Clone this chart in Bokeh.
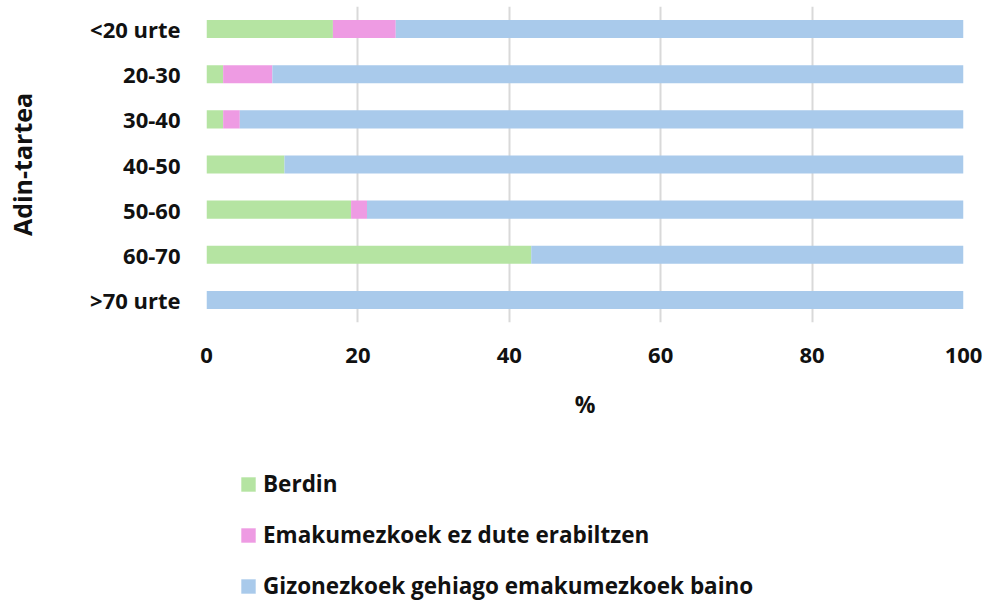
from bokeh.plotting import figure
from bokeh.layouts import column
from bokeh.models import FactorRange, Range1d, Legend, LegendItem, ColumnDataSource, FixedTicker
from bokeh.embed import file_html
from bokeh.resources import INLINE

categories = ["<20 urte", "20-30", "30-40", "40-50", "50-60", "60-70", ">70 urte"]
berdin = [16.7, 2.2, 2.2, 10.3, 19.1, 42.9, 0.0]
ez_dute = [8.3, 6.5, 2.2, 0.0, 2.1, 0.0, 0.0]
gizonezkoek = [75.0, 91.3, 95.6, 89.7, 78.8, 57.1, 100.0]
series_names = ["Berdin", "Emakumezkoek ez dute erabiltzen", "Gizonezkoek gehiago emakumezkoek baino"]
colors = ["#b5e4a2", "#ee9be3", "#a9caeb"]
x_ticks = [0, 20, 40, 60, 80, 100]

FONT = "Open Sans"

source = ColumnDataSource(dict(cat=categories, s0=berdin, s1=ez_dute, s2=gizonezkoek))

p = figure(
    y_range=FactorRange(factors=list(reversed(categories)), range_padding=0),
    x_range=Range1d(0, 100),
    frame_width=757, frame_height=316,
    min_border_left=206, min_border_right=24, min_border_top=6, min_border_bottom=110,
    output_backend="svg", toolbar_location=None,
)
p.outline_line_color = None
p.background_fill_color = "white"
p.border_fill_color = "white"

rs = p.hbar_stack(["s0", "s1", "s2"], y="cat", height=0.4, color=colors, source=source, line_width=0)

p.xaxis.ticker = FixedTicker(ticks=x_ticks)
p.xaxis.axis_label = "%"
p.yaxis.axis_label = "Adin-tartea"
for ax in (p.xaxis[0], p.yaxis[0]):
    ax.axis_line_color = None
    ax.major_tick_line_color = None
    ax.minor_tick_line_color = None
    ax.major_label_text_font = FONT
    ax.major_label_text_font_style = "bold"
    ax.major_label_text_font_size = "22px"
    ax.major_label_text_color = "#111111"
    ax.axis_label_text_font = FONT
    ax.axis_label_text_font_style = "bold"
    ax.axis_label_text_color = "#111111"
p.xaxis.axis_label_text_font_size = "23px"
p.yaxis.axis_label_text_font_size = "25px"
p.xaxis.major_label_standoff = 19
p.xaxis.axis_label_standoff = 22
p.yaxis.major_label_standoff = 20
p.yaxis.axis_label_standoff = 48

p.ygrid.grid_line_color = None
p.xgrid.grid_line_color = "#d9d9d9"
p.xgrid.grid_line_width = 2

# Legend panel: a second figure under the chart. Its bars use age factors that its
# own range does not contain, so they are not drawn; they only give legend swatches.
leg_fig = figure(
    width=987, height=168,
    x_range=Range1d(0, 100), y_range=FactorRange(factors=series_names),
    x_axis_location=None, y_axis_location=None,
    min_border=0, output_backend="svg", toolbar_location=None,
)
leg_fig.outline_line_color = None
leg_fig.grid.grid_line_color = None
swatches = leg_fig.hbar_stack(["s0", "s1", "s2"], y="cat", height=0.4, color=colors,
                              source=source, line_width=0)

legend = Legend(
    items=[LegendItem(label=n, renderers=[r]) for n, r in zip(series_names, swatches)],
    orientation="vertical", location=(33, -1),
    label_text_font=FONT, label_text_font_style="bold", label_text_font_size="22.5px",
    label_text_color="#111111",
    glyph_width=18, glyph_height=18, label_standoff=6, label_height=22,
    spacing=20, padding=0, margin=0,
    border_line_color=None, background_fill_alpha=0,
)
leg_fig.add_layout(legend)

layout = column(p, leg_fig, spacing=0)
open("out.html", "w").write(file_html(layout, INLINE))
